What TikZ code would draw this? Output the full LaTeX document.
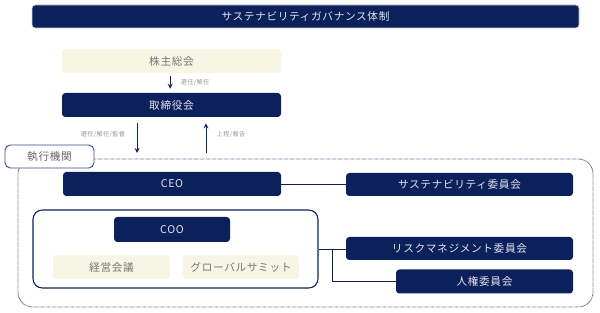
\documentclass[tikz,border=0pt]{standalone}
\usepackage{fontspec}
\setmainfont[LetterSpace=6]{Noto Sans CJK JP}
\definecolor{navy}{RGB}{12,32,92}
\definecolor{cream}{RGB}{247,245,228}
\definecolor{navytext}{RGB}{226,229,238}
\definecolor{creamtext}{RGB}{118,118,118}
\definecolor{labeltext}{RGB}{150,150,150}
\definecolor{dotcol}{RGB}{85,95,135}
\begin{document}
\begin{tikzpicture}[x=0.75pt,y=-0.75pt,
  navybox/.style={fill=navy,text=navytext,rounded corners=2.5pt,inner sep=0pt,font=\fontsize{8}{9}\selectfont},
  creambox/.style={fill=cream,text=creamtext,rounded corners=2.5pt,inner sep=0pt,font=\fontsize{8}{9}\selectfont},
  smalllabel/.style={text=labeltext,inner sep=0pt,font=\fontsize{4.6}{5}\selectfont},
  arr/.style={->,>=stealth,navy,line width=0.7pt},
  conn/.style={navy,line width=0.7pt}]
\useasboundingbox (0,0) rectangle (600,313);
\node[navybox,minimum width=410.25pt,minimum height=17.25pt,draw=gray!40,line width=0.4pt] (title) at (305.5,16.5) {サステナビリティガバナンス体制};
\node[creambox,minimum width=164.25pt,minimum height=18pt] (kabu) at (171.5,61) {株主総会};
\node[navybox,minimum width=164.25pt,minimum height=18pt] (tori) at (171.5,105) {取締役会};
\draw[arr] ([xshift=-1pt,yshift=-2.2pt]kabu.south) -- ([xshift=-1pt,yshift=3pt]tori.north);
\node[smalllabel] (lab1) at (195,82) {選任/解任};
\draw[dotcol,line width=0.7pt,dash pattern=on 0.45pt off 0.45pt,rounded corners=11pt] (18,159) rectangle (593,307);
\node[draw=navy!80,line width=0.7pt,fill=white,rounded corners=4pt,minimum width=66.75pt,minimum height=17.25pt,inner sep=0pt,text=black!60,font=\fontsize{8}{9}\selectfont] (exec) at (49.5,156.5) {執行機関};
\coordinate (dn) at (137,153);
\coordinate (up) at (206,153);
\draw[arr] (tori.south -| dn) ++(0,6) -- (dn);
\draw[arr] (up) -- ([yshift=-4.5pt]tori.south -| up);
\node[smalllabel] (lab2) at (103,134) {選任/解任/監督};
\node[smalllabel] (lab3) at (231,134) {上程/報告};
\node[navybox,minimum width=163.5pt,minimum height=18pt] (ceo) at (172,184) {CEO};
\node[navybox,minimum width=170.25pt,minimum height=17.25pt] (sus) at (459.5,184.5) {サステナビリティ委員会};
\draw[conn] (ceo.east) -- (ceo.east -| sus.west);
\node[draw=navy,line width=0.8pt,rounded corners=7pt,minimum width=213.75pt,minimum height=58.5pt] (grp) at (175.5,249) {};
\node[navybox,minimum width=87pt,minimum height=18.75pt] (coo) at (172,229.5) {COO};
\node[creambox,minimum width=87.75pt,minimum height=18pt] (keiei) at (111.5,267) {経営会議};
\node[creambox,minimum width=87pt,minimum height=18pt] (glob) at (241,267) {グローバルサミット};
\node[navybox,minimum width=170.25pt,minimum height=17.25pt] (risk) at (459.5,248.5) {リスクマネジメント委員会};
\node[navybox,minimum width=132.75pt,minimum height=18pt] (jinken) at (484.5,281.5) {人権委員会};
\draw[conn] (grp.east) -- (grp.east -| risk.west);
\coordinate (br) at (332,249);
\draw[conn] (br) |- (jinken.west);
\end{tikzpicture}
\end{document}
